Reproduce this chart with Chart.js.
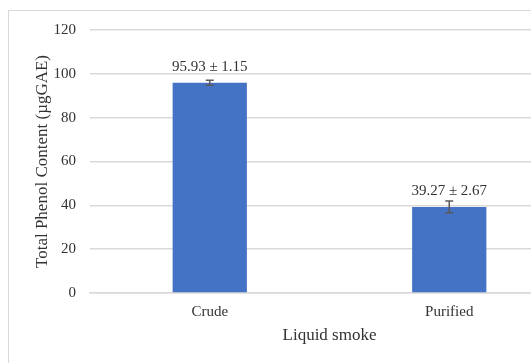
<!DOCTYPE html>
<html>
<head>
<meta charset="utf-8">
<script src="https://cdn.jsdelivr.net/npm/chart.js@4/dist/chart.umd.min.js"></script>
<style>
  html, body { margin: 0; padding: 0; background: #fff; overflow: hidden; }
  #frame { position: absolute; left: 8px; top: 10px; width: 600px; height: 400px;
           border-left: 1px solid #d9d9d9; border-top: 1px solid #d9d9d9; }
  #wrap { position: absolute; left: 0; top: 0; width: 580px; height: 363px; }
</style>
</head>
<body>
<div id="frame"></div>
<div id="wrap"><canvas id="chart"></canvas></div>
<script>
const categories = ["Crude", "Purified"];
const phenolValues = [95.93, 39.27];
const phenolErrors = [1.15, 2.67];
const yTicks = [0, 20, 40, 60, 80, 100, 120];

const serif = "'Liberation Serif', 'Times New Roman', serif";

// error bars + value labels
const errorBarPlugin = {
  id: "errorBars",
  afterDatasetsDraw(chart) {
    const ctx = chart.ctx;
    const y = chart.scales.y;
    const meta = chart.getDatasetMeta(0);
    ctx.save();
    meta.data.forEach((bar, i) => {
      const v = phenolValues[i];
      const e = phenolErrors[i];
      const top = y.getPixelForValue(v + e);
      const bot = y.getPixelForValue(v - e);
      ctx.strokeStyle = "#595959";
      ctx.lineWidth = 1.5;
      ctx.beginPath();
      ctx.moveTo(bar.x, top); ctx.lineTo(bar.x, bot);
      ctx.moveTo(bar.x - 4, top); ctx.lineTo(bar.x + 4, top);
      ctx.moveTo(bar.x - 4, bot); ctx.lineTo(bar.x + 4, bot);
      ctx.stroke();

      ctx.fillStyle = "#333333";
      ctx.font = "15px " + serif;
      ctx.textAlign = "center";
      ctx.textBaseline = "middle";
      ctx.fillText(v.toFixed(2) + " \u00b1 " + e.toFixed(2), bar.x, bar.y - 16);
    });
    ctx.restore();
  }
};

new Chart(document.getElementById("chart"), {
  type: "bar",
  data: {
    labels: categories,
    datasets: [{
      data: phenolValues,
      backgroundColor: "#4472C4",
      categoryPercentage: 1,
      barPercentage: 0.31
    }]
  },
  options: {
    responsive: true,
    maintainAspectRatio: false,
    animation: false,
    layout: { padding: { top: 30, right: 11, left: 0, bottom: 0 } },
    plugins: { legend: { display: false }, tooltip: { enabled: false } },
    scales: {
      x: {
        grid: { display: false },
        border: { display: true, color: "#d9d9d9", width: 1.5 },
        ticks: { color: "#333333", font: { family: serif, size: 15 }, padding: 2 },
        title: { display: true, text: "Liquid smoke", color: "#333333",
                 font: { family: serif, size: 17 }, padding: { top: 0, bottom: 17 } },
        afterFit(s) { s.height = 70; }
      },
      y: {
        min: 0, max: 120,
        afterBuildTicks(s) { s.ticks = yTicks.map(v => ({ value: v })); },
        grid: { color: "#d9d9d9", lineWidth: 1.5, drawTicks: false },
        border: { display: false },
        ticks: { color: "#333333", font: { family: serif, size: 15 }, padding: 14 },
        title: { display: true, text: "Total Phenol Content (\u00b5gGAE)", color: "#333333",
                 font: { family: serif, size: 17 }, padding: { top: 32, bottom: 0 } },
        afterFit(s) { s.width = 90; }
      }
    }
  },
  plugins: [errorBarPlugin]
});
</script>
</body>
</html>
